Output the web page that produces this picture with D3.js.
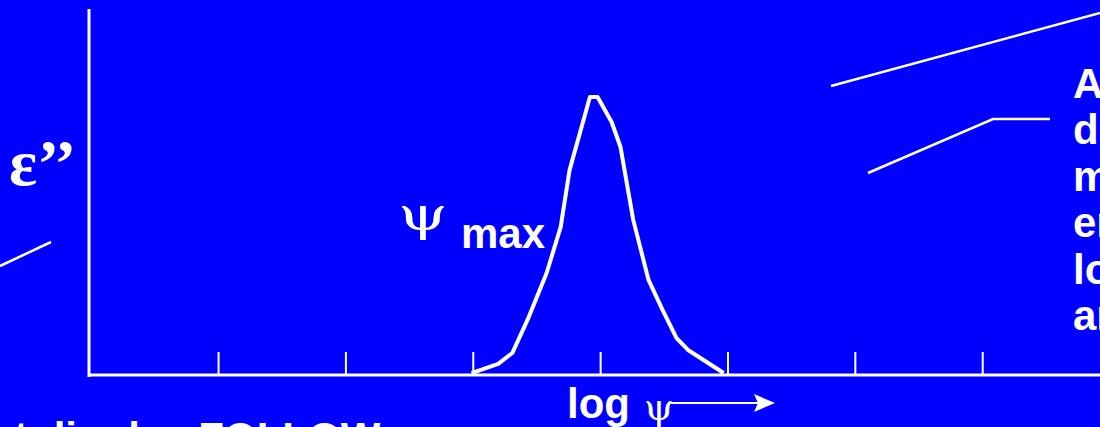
<!DOCTYPE html>
<html>
<head>
<meta charset="utf-8">
<script src="https://cdn.jsdelivr.net/npm/d3@7"></script>
<style>
  html, body { margin: 0; padding: 0; background: #0000ff; overflow: hidden; }
  svg { display: block; }
  .axis line, .axis path { stroke: #fff; }
  .bold { font-family: Arial, "Liberation Sans", sans-serif; font-weight: bold; fill: #fff; }
  .greek { font-family: "Times New Roman", "Liberation Serif", serif; fill: #fff; }
  .psi { font-family: "DejaVu Serif", serif; fill: #fff; }
</style>
</head>
<body>
<div class="peakChart"></div>
<script>
var width = 1100,
	height = 427;

// data: loss peak, x in log units (one tick = one decade), y relative to peak
var logPsi = [2.99, 3.20, 3.31, 3.43, 3.58, 3.69, 3.76, 3.92, 3.98, 4.09, 4.16, 4.26, 4.38, 4.49, 4.60, 4.69, 4.97];
var epsLoss = [0.007, 0.04, 0.079, 0.198, 0.367, 0.532, 0.737, 1, 1, 0.91, 0.82, 0.558, 0.342, 0.234, 0.133, 0.09, 0.007];
var tickValues = [1, 2, 3, 4, 5, 6, 7];

// texts
var rightLines = ["At high frequency", "dipoles cannot", "move fast enough", "energy", "lost", "and"];
var bottomText = "t dipoles FOLLOW";

var svg = d3.select(".peakChart").append("svg")
	.attr("width", width)
	.attr("height", height);

// setup scales
var xScale = d3.scaleLinear().domain([0, 7]).range([90.7, 982.2]);
var yScale = d3.scaleLinear().domain([0, 1]).range([375, 97]);

// x axis ticks
var xAxis = d3.axisBottom(xScale)
	.tickValues(tickValues)
	.tickSizeInner(-23)
	.tickSizeOuter(0)
	.tickFormat("");

svg.append("g")
	.attr("class", "axis")
	.attr("transform", "translate(0," + yScale(0) + ")")
	.call(xAxis)
	.call(function (g) {
		g.select(".domain").remove();
		g.selectAll(".tick line").attr("stroke-width", 2);
	});

// x axis line
svg.append("line")
	.attr("x1", 89).attr("x2", width)
	.attr("y1", yScale(0)).attr("y2", yScale(0))
	.attr("stroke", "#fff").attr("stroke-width", 3);

// y axis (no ticks)
svg.append("line")
	.attr("x1", 89).attr("x2", 89)
	.attr("y1", 9).attr("y2", yScale(0) + 2)
	.attr("stroke", "#fff").attr("stroke-width", 3);

// peak curve
var peak = logPsi.map(function (v, i) { return [v, epsLoss[i]]; });
var line = d3.line()
	.x(function (d) { return xScale(d[0]); })
	.y(function (d) { return yScale(d[1]); });

svg.append("path")
	.datum(peak)
	.attr("d", line)
	.attr("fill", "none")
	.attr("stroke", "#fff")
	.attr("stroke-width", 4)
	.attr("stroke-linejoin", "round");

// y label
svg.append("text")
	.attr("class", "greek")
	.attr("x", 9).attr("y", 185)
	.attr("font-size", 66)
	.attr("font-weight", "bold")
	.text("ε’’");

// psi max label (psi drawn wide, like the symbol font)
svg.append("text")
	.attr("class", "psi")
	.attr("transform", "translate(398,230) scale(1.35,1)")
	.attr("font-size", 47)
	.text("ψ");
svg.append("text")
	.attr("class", "bold")
	.attr("x", 461).attr("y", 248)
	.attr("font-size", 42)
	.text("max");

// x label with arrow
svg.append("text")
	.attr("class", "bold")
	.attr("x", 567).attr("y", 418)
	.attr("font-size", 42)
	.text("log");
svg.append("text")
	.attr("class", "psi")
	.attr("x", 644).attr("y", 420)
	.attr("font-size", 38)
	.text("ψ");
svg.append("line")
	.attr("x1", 668).attr("x2", 760)
	.attr("y1", 403).attr("y2", 403)
	.attr("stroke", "#fff").attr("stroke-width", 2);
svg.append("path")
	.attr("d", "M775,403 L754,394 L758,403 L754,412 Z")
	.attr("fill", "#fff");

// pointer lines
var pointers = [
	[[831, 86], [1100, 13]],
	[[868, 173], [993, 119], [1050, 119]],
	[[0, 266], [51, 242]]
];
svg.selectAll(".pointer")
	.data(pointers)
	.enter()
	.append("path")
	.attr("class", "pointer")
	.attr("d", d3.line())
	.attr("fill", "none")
	.attr("stroke", "#fff")
	.attr("stroke-width", 2.5);

// right side text (cut off by the frame)
svg.append("g")
	.selectAll("text")
	.data(rightLines)
	.enter()
	.append("text")
	.attr("class", "bold")
	.attr("x", 1073)
	.attr("y", function (d, i) { return 98 + i * 46.4; })
	.attr("font-size", 42)
	.text(function (d) { return d; });

// bottom text (cut off by the frame)
svg.append("text")
	.attr("class", "bold")
	.attr("x", 14).attr("y", 452)
	.attr("font-size", 42)
	.text(bottomText);
</script>
</body>
</html>
